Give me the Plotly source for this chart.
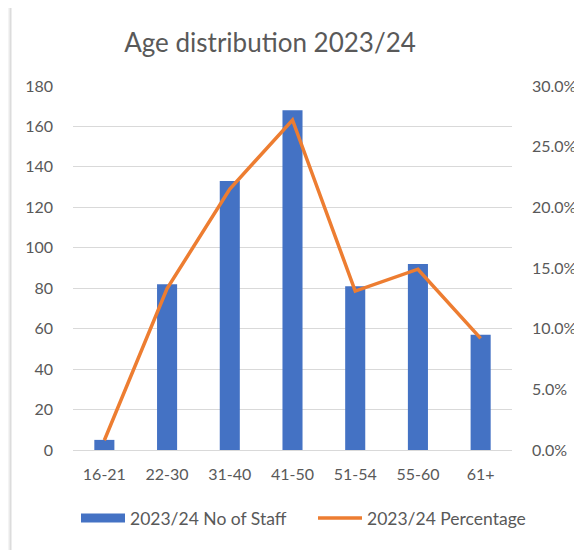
import plotly.graph_objects as go

# data
age_bands = ["16-21", "22-30", "31-40", "41-50", "51-54", "55-60", "61+"]
staff_count = [5, 82, 133, 168, 81, 92, 57]
staff_pct = [0.008, 0.133, 0.215, 0.272, 0.131, 0.149, 0.092]

blue = "#4472C4"
orange = "#ED7D31"
grey_txt = "#595959"
grid = "#D9D9D9"

# page body adds an 8px margin, so the figure is drawn 8px smaller
W, H = 574, 542
L, R, T, B = 65, 70, 78, 100
pw, ph = W - L - R, H - T - B

fig = go.Figure()
fig.add_trace(go.Bar(
    x=age_bands, y=staff_count, name="2023/24 No of Staff",
    marker=dict(color=blue, line=dict(width=0)),
    showlegend=False,
))
fig.add_trace(go.Scatter(
    x=age_bands, y=staff_pct, name="2023/24 Percentage",
    mode="lines", line=dict(color=orange, width=3.5),
    yaxis="y2", showlegend=False,
))
# legend entries drawn Excel-style (wide swatches), one legend box each
fig.add_trace(go.Scatter(
    x=[None], y=[None], name="2023/24 No of Staff", mode="lines",
    line=dict(color=blue, width=9), legend="legend",
))
fig.add_trace(go.Scatter(
    x=[None], y=[None], name="2023/24 Percentage", mode="lines",
    line=dict(color=orange, width=3.5), yaxis="y2", legend="legend2",
))

# chart frame edge on the left like the screenshot
fig.add_shape(type="rect", xref="paper", yref="paper",
              x0=-L / pw, x1=(1.5 - L) / pw, y0=-B / ph, y1=1 + T / ph,
              fillcolor="#F4F4F4", line=dict(width=0), layer="below")
fig.add_shape(type="line", xref="paper", yref="paper",
              x0=(2.5 - L) / pw, x1=(2.5 - L) / pw, y0=-B / ph, y1=1 + T / ph,
              line=dict(color="#DCDCDC", width=2), layer="below")

leg = dict(orientation="h", xanchor="left", xref="container",
           yref="container", y=1 - 510 / H, yanchor="middle",
           itemwidth=44, font=dict(size=17.5, color=grey_txt),
           bgcolor="rgba(0,0,0,0)")

fig.update_layout(
    width=W, height=H,
    paper_bgcolor="white", plot_bgcolor="white",
    font=dict(family="Lato, Noto Sans, sans-serif", size=16, color=grey_txt),
    title=dict(text="Age distribution 2023/24", xref="container",
               x=262 / W, xanchor="center",
               y=1 - 35 / H, yanchor="middle", yref="container",
               font=dict(size=26, color=grey_txt)),
    margin=dict(l=L, r=R, t=T, b=B),
    bargap=0.68,
    showlegend=True,
    legend=dict(leg, x=68 / W),
    legend2=dict(leg, x=305 / W),
    xaxis=dict(showgrid=False, showline=True, linecolor=grid, linewidth=1,
               ticks="", tickfont=dict(size=16, color=grey_txt),
               ticklabelstandoff=10, automargin=False),
    yaxis=dict(range=[0, 180], dtick=20, showgrid=True, gridcolor=grid,
               zeroline=False, showline=False, ticks="",
               ticklabelstandoff=19, automargin=False),
    yaxis2=dict(range=[0, 0.30], dtick=0.05, tickformat=".1%",
                overlaying="y", side="right", showgrid=False,
                zeroline=False, showline=False, ticks="",
                ticklabelstandoff=19, automargin=False),
)

fig.write_html("out.html")
